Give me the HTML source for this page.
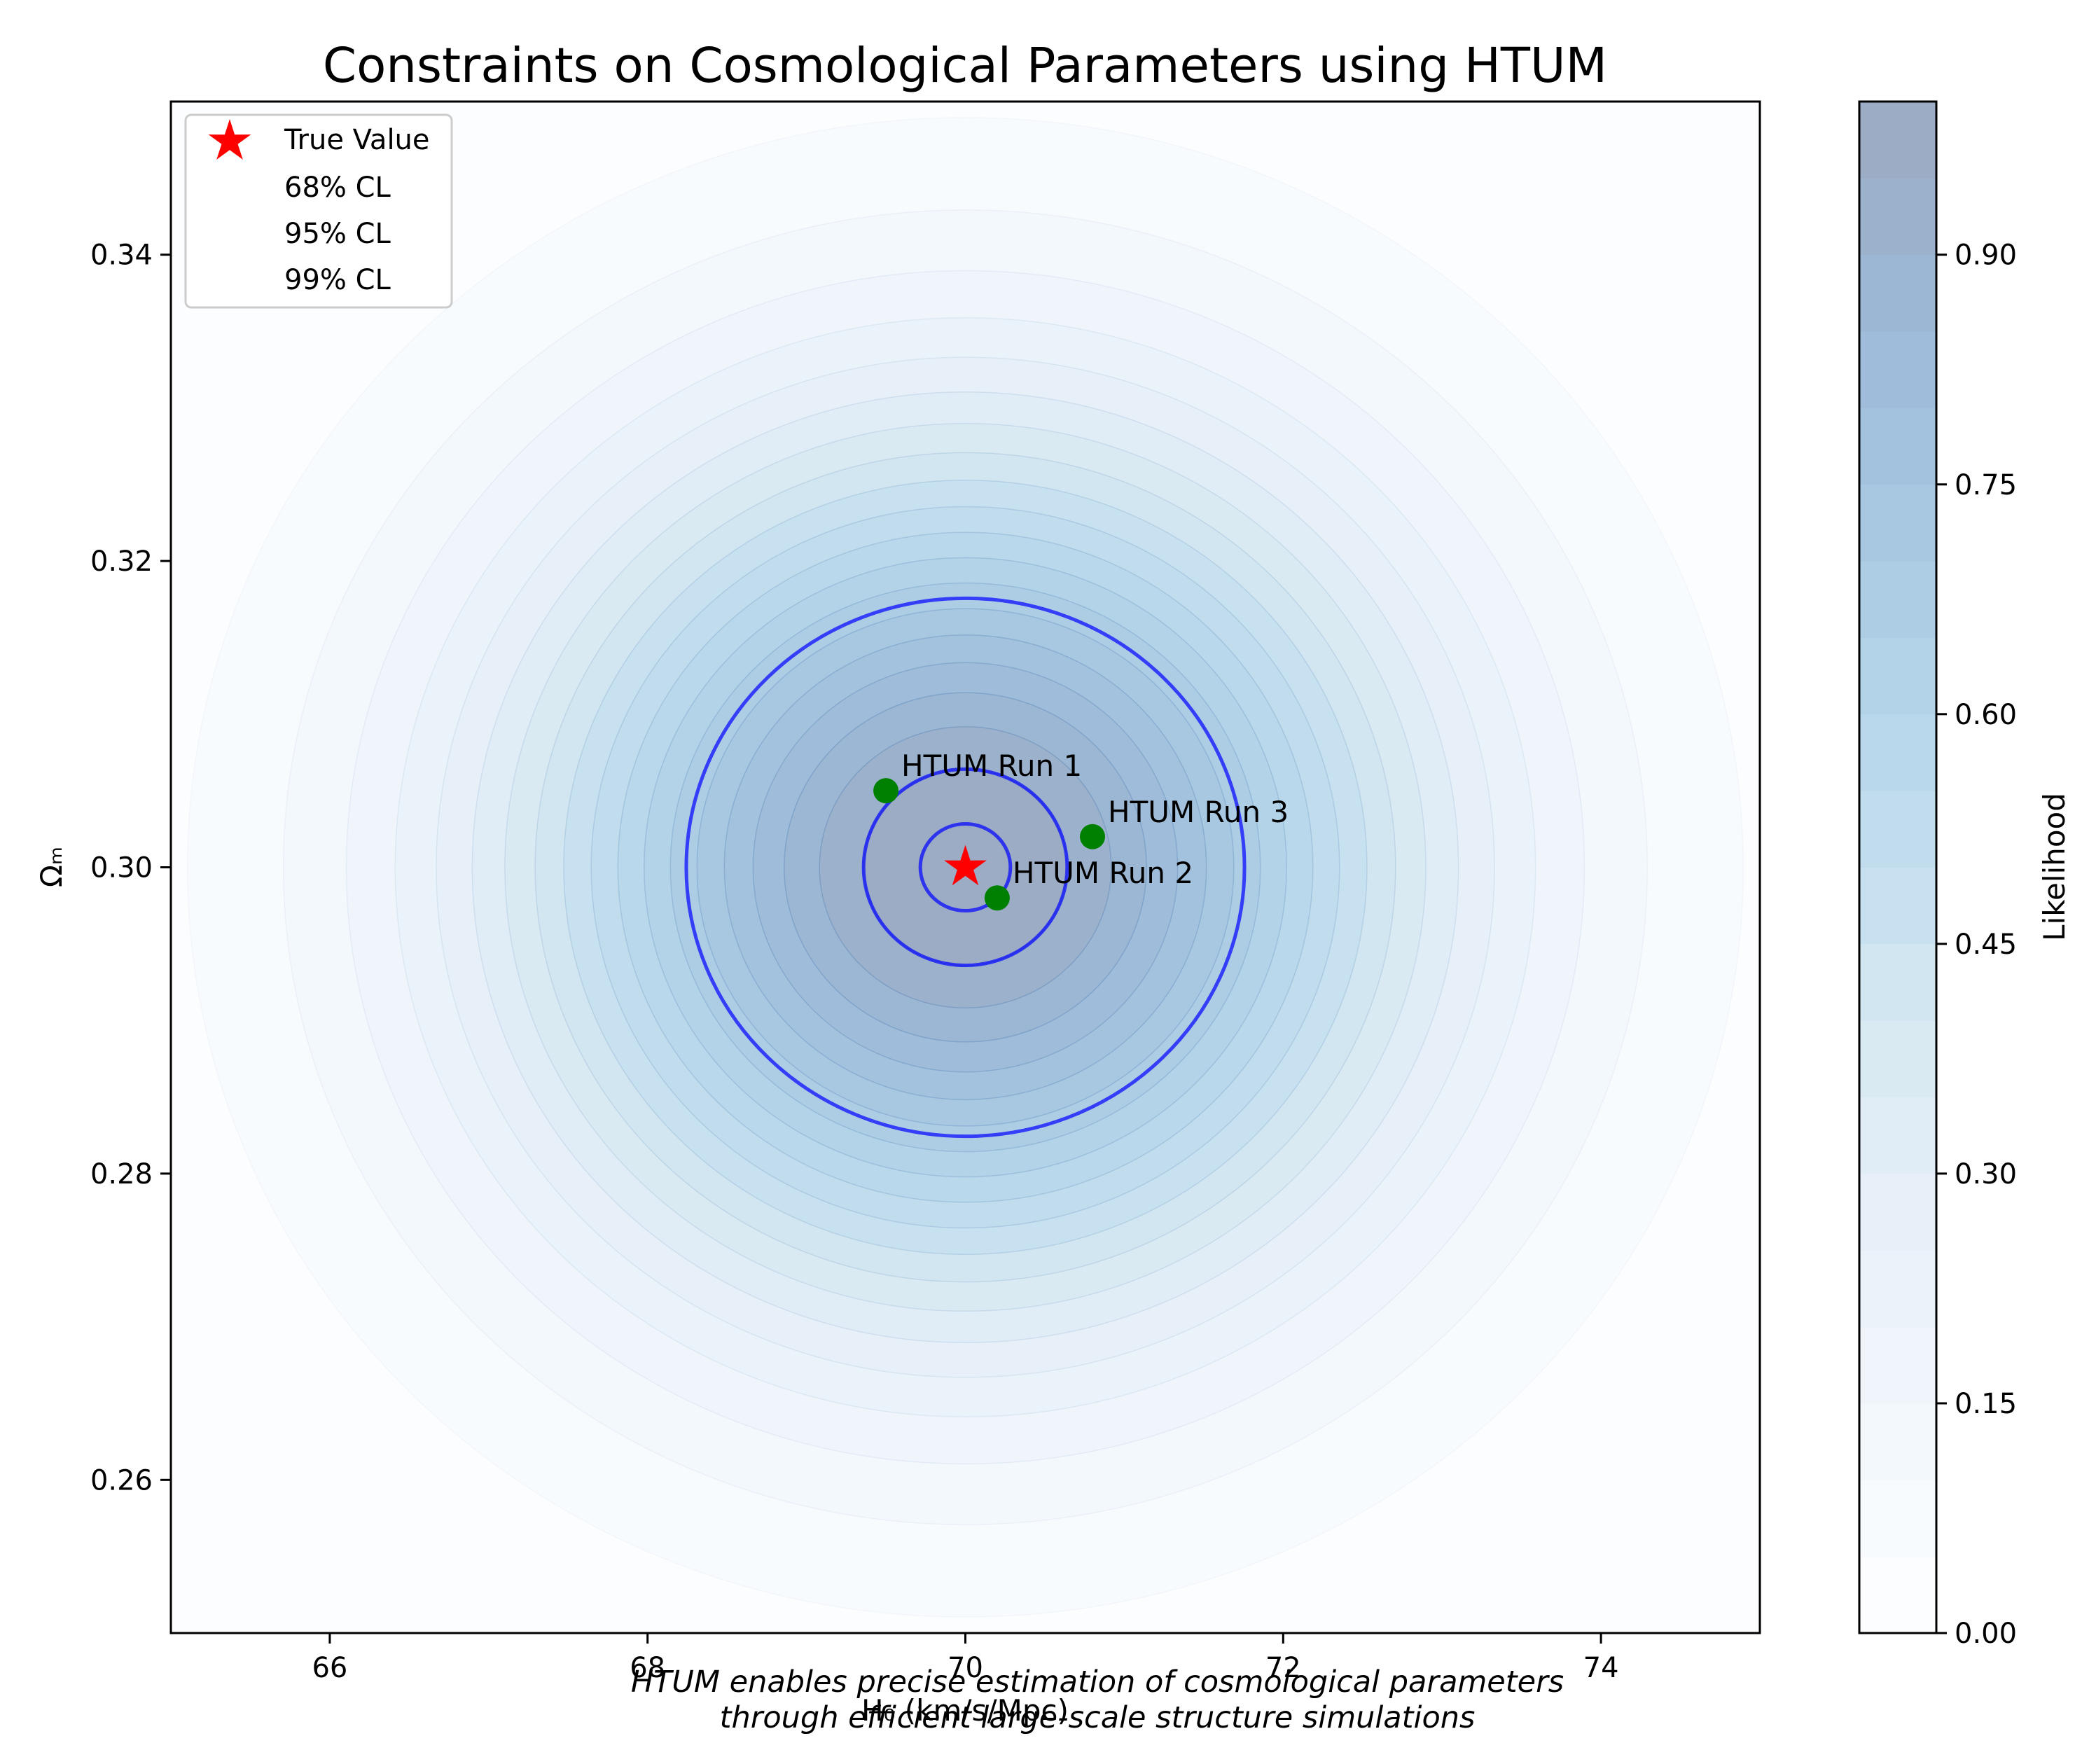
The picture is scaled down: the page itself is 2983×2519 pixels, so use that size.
<!DOCTYPE html>
<html><head><meta charset="utf-8"><style>
html,body{margin:0;padding:0;background:#fff;}
svg{display:block;font-family:"DejaVu Sans","Liberation Sans",sans-serif;}
</style></head><body>
<svg id="chart" width="2983" height="2519" viewBox="0 0 2983 2519" xmlns="http://www.w3.org/2000/svg">
<defs><clipPath id="plotclip"><rect x="244" y="145" width="2269" height="2187"/></clipPath></defs>
<text x="1378" y="117" font-size="69" text-anchor="middle">Constraints on Cosmological Parameters using HTUM</text>
<g id="plot" clip-path="url(#plotclip)"></g>
<g id="overlay"></g>
<rect x="244" y="145" width="2269" height="2187" fill="none" stroke="#000" stroke-width="3"/>
<g id="axes"></g>
<g id="cbar"></g>
<text x="1378" y="2457" font-size="42" text-anchor="middle">H₀ (km/s/Mpc)</text>
<text x="88" y="1238" font-size="42" text-anchor="middle" transform="rotate(-90 88 1238)">Ωₘ</text>
<text x="2948" y="1238" font-size="42" text-anchor="middle" transform="rotate(-90 2948 1238)">Likelihood</text>
<text x="1567" y="2416" font-size="43" font-style="italic" text-anchor="middle">HTUM enables precise estimation of cosmological parameters</text>
<text x="1567" y="2467" font-size="43" font-style="italic" text-anchor="middle">through efficient large-scale structure simulations</text>
<g>
<rect x="265" y="164" width="380" height="275" rx="8" fill="#fff" fill-opacity="0.85" stroke="#ccc" stroke-width="3"/>
<polygon id="legstar" fill="red"/>
<text x="406" y="213" font-size="40">True Value</text>
<text x="406" y="281" font-size="40">68% CL</text>
<text x="406" y="347" font-size="40">95% CL</text>
<text x="406" y="413" font-size="40">99% CL</text>
</g>
</svg>
<script>
const xTicks = [66, 68, 70, 72, 74];
const yTicks = [0.26, 0.28, 0.30, 0.32, 0.34];
const cbTicks = [0.00, 0.15, 0.30, 0.45, 0.60, 0.75, 0.90];
const trueH0 = 70, trueOm = 0.30;
const sigmaH0 = 2, sigmaOm = 0.02;
const bandLevels = [0.05,0.10,0.15,0.20,0.25,0.30,0.35,0.40,0.45,0.50,0.55,0.60,0.65,0.70,0.75,0.80,0.85,0.90,0.95];
const clLevels = [0.68, 0.95, 0.99];
const runNames = ["HTUM Run 1", "HTUM Run 2", "HTUM Run 3"];
const runH0 = [69.5, 70.2, 70.8];
const runOm = [0.305, 0.298, 0.302];

const NS="http://www.w3.org/2000/svg";
const X0=244,X1=2513,Y0=145,Y1=2332;
const sx=v=>X0+(v-65)/10*(X1-X0);
const sy=v=>Y1-(v-0.25)/0.10*(Y1-Y0);
const cy=v=>Y1-v*(Y1-Y0);
const blues=[[247,251,255],[222,235,247],[198,219,239],[158,202,225],[107,174,214],[66,146,198],[33,113,181],[8,81,156],[8,48,107]];
function cmap(t){t=Math.max(0,Math.min(1,t));const p=t*8,i=Math.min(7,Math.floor(p)),f=p-i;
 const c=blues[i].map((v,k)=>v+(blues[i+1][k]-v)*f);
 return 'rgb('+c.map(v=>Math.round(255*0.6+v*0.4)).join(',')+')';}
function mk(tag,attrs,parent){const e=document.createElementNS(NS,tag);for(const k in attrs)e.setAttribute(k,attrs[k]);parent.appendChild(e);return e;}
const plot=document.getElementById('plot');
const nb=bandLevels.length;
let bg=mk('rect',{x:X0,y:Y0,width:X1-X0,height:Y1-Y0,fill:cmap(0)},plot);


bandLevels.forEach((L,i)=>{
  const r=Math.sqrt(-2*Math.log(L));
  const rx=sx(trueH0+r*sigmaH0)-sx(trueH0), ry=sy(trueOm)-sy(trueOm+r*sigmaOm);
  const op=(0.03+0.3*L).toFixed(3);
  const e=mk('ellipse',{cx:sx(trueH0),cy:sy(trueOm),rx:rx,ry:ry,fill:cmap((i+1)/nb),stroke:'rgba(60,110,170,'+op+')','stroke-width':1.5},plot);
  
  
});
clLevels.forEach(L=>{
  const r=Math.sqrt(-2*Math.log(L));
  const rx=sx(trueH0+r*sigmaH0)-sx(trueH0), ry=sy(trueOm)-sy(trueOm+r*sigmaOm);
  const e=mk('ellipse',{cx:sx(trueH0),cy:sy(trueOm),rx:rx,ry:ry,fill:'none',stroke:'rgba(0,0,255,0.7)','stroke-width':5},plot);
  
  
});
function star(cx,cy,R){const pts=[];for(let k=0;k<10;k++){const a=-Math.PI/2+k*Math.PI/5,rr=k%2?R*0.38:R;pts.push((cx+rr*Math.cos(a)).toFixed(1)+','+(cy+rr*Math.sin(a)).toFixed(1));}return pts.join(' ');}
const ov=document.getElementById('overlay');
runNames.forEach((n,i)=>{
  const c=mk('circle',{cx:sx(runH0[i]),cy:sy(runOm[i]),r:18,fill:'green'},ov);
  
  
  const t=mk('text',{x:sx(runH0[i])+22,y:sy(runOm[i])-21,'font-size':42},ov);
  t.textContent=n;
  
  
});
const st=mk('polygon',{points:star(sx(trueH0),sy(trueOm),32),fill:'red'},ov);


document.getElementById('legstar').setAttribute('points',star(328,202,32));
const ax=document.getElementById('axes');
xTicks.forEach(v=>{
  mk('line',{x1:sx(v),x2:sx(v),y1:Y1,y2:Y1+15,stroke:'#000','stroke-width':3},ax);
  const t=mk('text',{x:sx(v),y:Y1+63,'font-size':40,'text-anchor':'middle'},ax);
  t.textContent=v;
  
  
});
yTicks.forEach(v=>{
  mk('line',{x1:X0-15,x2:X0,y1:sy(v),y2:sy(v),stroke:'#000','stroke-width':3},ax);
  const t=mk('text',{x:X0-26,y:sy(v)+14,'font-size':40,'text-anchor':'end'},ax);
  t.textContent=v.toFixed(2);
  
  
});
const cb=document.getElementById('cbar');
const CX0=2655,CX1=2765;
for(let i=0;i<20;i++){
  const r=mk('rect',{x:CX0,y:cy((i+1)*0.05),width:CX1-CX0,height:cy(i*0.05)-cy((i+1)*0.05)+0.5,fill:cmap(i/19)},cb);
  
  
}
mk('rect',{x:CX0,y:Y0,width:CX1-CX0,height:Y1-Y0,fill:'none',stroke:'#000','stroke-width':3},cb);
cbTicks.forEach(v=>{
  mk('line',{x1:CX1,x2:CX1+15,y1:cy(v),y2:cy(v),stroke:'#000','stroke-width':3},cb);
  const t=mk('text',{x:CX1+26,y:cy(v)+14,'font-size':40},cb);
  t.textContent=v.toFixed(2);
  
  
});
</script>
</body></html>
